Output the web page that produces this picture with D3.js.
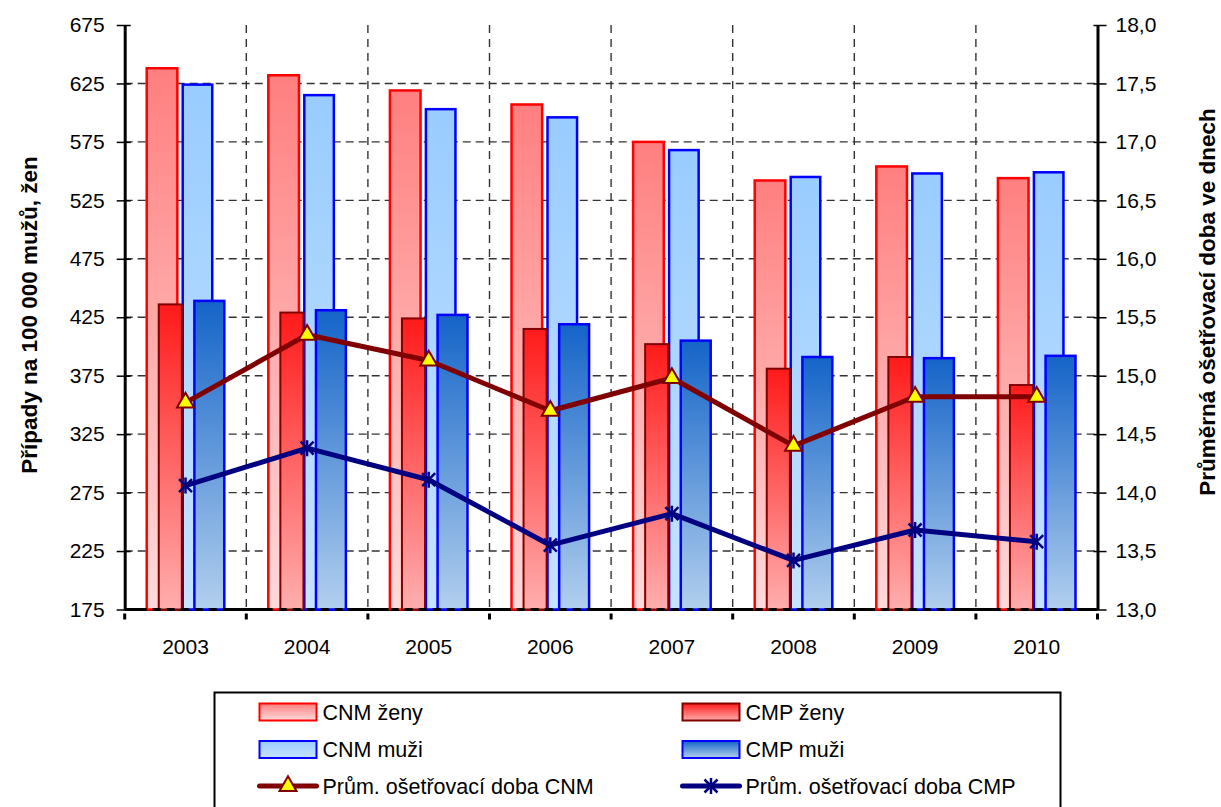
<!DOCTYPE html>
<html>
<head>
<meta charset="utf-8">
<script src="https://cdn.jsdelivr.net/npm/d3@7.9.0/dist/d3.min.js"></script>
<style>
  body { margin: 0; background: #fff; }
  svg { display: block; font-family: "Liberation Sans", Arial, sans-serif; }
</style>
</head>
<body>
<svg id="chart" width="1221" height="807"></svg>
<script>
// data
const years = ['2003', '2004', '2005', '2006', '2007', '2008', '2009', '2010'];
const cnmZeny = [638, 632, 619, 607, 575, 542, 554, 544];
const cnmMuzi = [624, 615, 603, 596, 568, 545, 548, 549];
const cmpZeny = [436, 429, 424, 415, 402, 381, 391, 367];
const cmpMuzi = [439, 431, 427, 419, 405, 391, 390, 392];
const dobaCNM = [14.77, 15.35, 15.13, 14.70, 14.98, 14.40, 14.82, 14.82];
const dobaCMP = [14.06, 14.38, 14.11, 13.55, 13.82, 13.42, 13.68, 13.58];
const leftTicks = [175, 225, 275, 325, 375, 425, 475, 525, 575, 625, 675];
const rightTicks = [13, 13.5, 14, 14.5, 15, 15.5, 16, 16.5, 17, 17.5, 18];

const svg = d3.select('#chart');
const plotTop = 25, plotBottom = 609.5, plotLeft = 124.7, plotRight = 1097.5;

let x = d3.scaleBand().domain(years).range([plotLeft, plotRight]);
let yL = d3.scaleLinear().domain([175, 675]).range([plotBottom, plotTop]);
let yR = d3.scaleLinear().domain([13, 18]).range([plotBottom, plotTop]);
// position inside a year band, 0..1
let inner = d3.scaleLinear().domain([0, 1]).range([0, x.bandwidth()]);

// gradients, one per bar style
const defs = svg.append('defs');
function grad(id, c1, c2) {
    let g = defs.append('linearGradient').attr('id', id)
        .attr('x1', 0).attr('y1', 0).attr('x2', 0).attr('y2', 1);
    g.append('stop').attr('offset', 0).attr('stop-color', c1);
    g.append('stop').attr('offset', 1).attr('stop-color', c2);
}
grad('gCnmZ', '#ff7f7f', '#ffdada');
grad('gCmpZ', '#ff1a1a', '#ffaeae');
grad('gCnmM', '#99ccff', '#c6e3ff');
grad('gCmpM', '#1464c8', '#b2cfee');

const series = [
    { name: 'CNM ženy', values: cnmZeny, fill: 'url(#gCnmZ)', stroke: '#ff0000', sw: 2.5, from: 0.181, to: 0.433 },
    { name: 'CNM muži', values: cnmMuzi, fill: 'url(#gCnmM)', stroke: '#0000ff', sw: 2.5, from: 0.477, to: 0.720 },
    { name: 'CMP ženy', values: cmpZeny, fill: 'url(#gCmpZ)', stroke: '#800000', sw: 2, from: 0.280, to: 0.470 },
    { name: 'CMP muži', values: cmpMuzi, fill: 'url(#gCmpM)', stroke: '#0000ff', sw: 2.5, from: 0.573, to: 0.819 },
];

// gridlines
const grid = svg.append('g');
grid.selectAll('line.h')
    .data(leftTicks.filter(d => d > 175 && d < 675))
    .join('line')
    .attr('x1', plotLeft).attr('x2', plotRight)
    .attr('y1', d => yL(d)).attr('y2', d => yL(d))
    .attr('stroke', '#333').attr('stroke-width', 1.4).attr('stroke-dasharray', '8,5');
grid.selectAll('line.v')
    .data(years.slice(1))
    .join('line')
    .attr('x1', d => x(d)).attr('x2', d => x(d))
    .attr('y1', plotTop).attr('y2', plotBottom)
    .attr('stroke', '#333').attr('stroke-width', 1.4).attr('stroke-dasharray', '8,6');

// axis baseline below the bars
svg.append('line')
    .attr('x1', plotLeft).attr('x2', plotRight).attr('y1', plotBottom).attr('y2', plotBottom)
    .attr('stroke', '#000').attr('stroke-width', 3);

// bars
series.forEach(s => {
    svg.append('g').selectAll('rect')
        .data(s.values)
        .join('rect')
        .attr('x', (d, i) => x(years[i]) + inner(s.from))
        .attr('width', inner(s.to) - inner(s.from))
        .attr('y', d => yL(d))
        .attr('height', d => plotBottom - yL(d))
        .attr('fill', s.fill)
        .attr('stroke', s.stroke)
        .attr('stroke-width', s.sw);
});

// dashed line over the bar feet
svg.append('line')
    .attr('x1', plotLeft).attr('x2', plotRight).attr('y1', plotBottom).attr('y2', plotBottom)
    .attr('stroke', '#000').attr('stroke-width', 3).attr('stroke-dasharray', '8,6');

// bottom axis
let xAxis = svg.append('g')
    .attr('transform', `translate(0,${plotBottom})`)
    .call(d3.axisBottom(x).tickSize(0).tickPadding(30));
xAxis.select('.domain').remove();
xAxis.attr('font-family', null).attr('font-size', null);
xAxis.selectAll('text').attr('font-size', 21).attr('fill', '#000');
svg.append('g').selectAll('rect')
    .data(years.concat(['end']))
    .join('rect')
    .attr('x', d => (d === 'end' ? plotRight : x(d)) - 1.5)
    .attr('y', plotBottom + 4).attr('width', 3).attr('height', 6)
    .attr('fill', '#000');

// left axis
let yAxisL = svg.append('g')
    .attr('transform', `translate(${plotLeft},0)`)
    .call(d3.axisLeft(yL).tickValues(leftTicks).tickFormat(d3.format('d')).tickSize(0).tickPadding(20));
yAxisL.attr('font-family', null).attr('font-size', null);
yAxisL.select('.domain').attr('stroke-width', 3);
yAxisL.selectAll('.tick').append('line').attr('x1', -8).attr('x2', 6).attr('stroke', '#000').attr('stroke-width', 1.5);
yAxisL.selectAll('text').attr('font-size', 21).attr('fill', '#000');

// right axis
let yAxisR = svg.append('g')
    .attr('transform', `translate(${plotRight},0)`)
    .call(d3.axisRight(yR).tickValues(rightTicks).tickFormat(d => d.toFixed(1).replace('.', ',')).tickSize(0).tickPadding(18));
yAxisR.attr('font-family', null).attr('font-size', null);
yAxisR.select('.domain').attr('stroke-width', 3);
yAxisR.selectAll('.tick').append('line').attr('x1', -4).attr('x2', 9).attr('stroke', '#000').attr('stroke-width', 1.5);
yAxisR.selectAll('text').attr('font-size', 21).attr('fill', '#000');

// axis titles
svg.append('text')
    .attr('transform', `translate(37,315) rotate(-90)`)
    .attr('text-anchor', 'middle')
    .attr('font-size', 22.5).attr('font-weight', 'bold')
    .text('Případy na 100 000 mužů, žen');
svg.append('text')
    .attr('transform', `translate(1215,302) rotate(-90)`)
    .attr('text-anchor', 'middle')
    .attr('font-size', 22.5).attr('font-weight', 'bold')
    .text('Průměrná ošetřovací doba ve dnech');

// markers
const triangle = d3.symbol().type(d3.symbolTriangle).size(125);
const starPath = 'M0,-8L0,8M-6.5,-6.5L6.5,6.5M-6.5,6.5L6.5,-6.5';
function drawTriangle(g) {
    g.append('path').attr('d', triangle())
        .attr('fill', '#ffff00').attr('stroke', '#800000').attr('stroke-width', 2);
}
function drawStar(g) {
    g.append('path').attr('d', starPath)
        .attr('fill', 'none').attr('stroke', '#000080').attr('stroke-width', 2.5);
}

// lines on the right axis
const lines = [
    { name: 'Prům. ošetřovací doba CNM', values: dobaCNM, color: '#800000', marker: drawTriangle },
    { name: 'Prům. ošetřovací doba CMP', values: dobaCMP, color: '#000080', marker: drawStar },
];
lines.forEach(l => {
    let line = d3.line()
        .x((d, i) => x(years[i]) + x.bandwidth() / 2)
        .y(d => yR(d));
    svg.append('path')
        .attr('d', line(l.values))
        .attr('fill', 'none')
        .attr('stroke', l.color)
        .attr('stroke-width', 5)
        .attr('stroke-linejoin', 'round');
    svg.append('g').selectAll('g')
        .data(l.values)
        .join('g')
        .attr('transform', (d, i) => `translate(${x(years[i]) + x.bandwidth() / 2},${yR(d)})`)
        .each(function () { l.marker(d3.select(this)); });
});

// legend
const legend = svg.append('g');
legend.append('rect')
    .attr('x', 214.5).attr('y', 692.5).attr('width', 846).attr('height', 140)
    .attr('fill', '#fff').attr('stroke', '#000').attr('stroke-width', 2);

const legendItems = [
    { s: series[0], col: 0, row: 0 },
    { s: series[2], col: 1, row: 0 },
    { s: series[1], col: 0, row: 1 },
    { s: series[3], col: 1, row: 1 },
    { l: lines[0], col: 0, row: 2 },
    { l: lines[1], col: 1, row: 2 },
];
const colX = [259.5, 682.5];
const rowY = [712, 749.5, 786];
legendItems.forEach(it => {
    let lx = colX[it.col], ly = rowY[it.row];
    let g = legend.append('g');
    if (it.s) {
        g.append('rect')
            .attr('x', lx).attr('y', ly - 8.5).attr('width', 57).attr('height', 17)
            .attr('fill', it.s.fill).attr('stroke', it.s.stroke).attr('stroke-width', 2);
    } else {
        g.append('line')
            .attr('x1', lx).attr('x2', lx + 57).attr('y1', ly).attr('y2', ly)
            .attr('stroke', it.l.color).attr('stroke-width', 5).attr('stroke-linecap', 'round');
        let m = g.append('g').attr('transform', `translate(${lx + 28.5},${ly})`);
        it.l.marker(m);
    }
    g.append('text')
        .attr('x', lx + 63).attr('y', ly).attr('dy', '0.35em')
        .attr('font-size', 21.5)
        .text(it.s ? it.s.name : it.l.name);
});
</script>
</body>
</html>
